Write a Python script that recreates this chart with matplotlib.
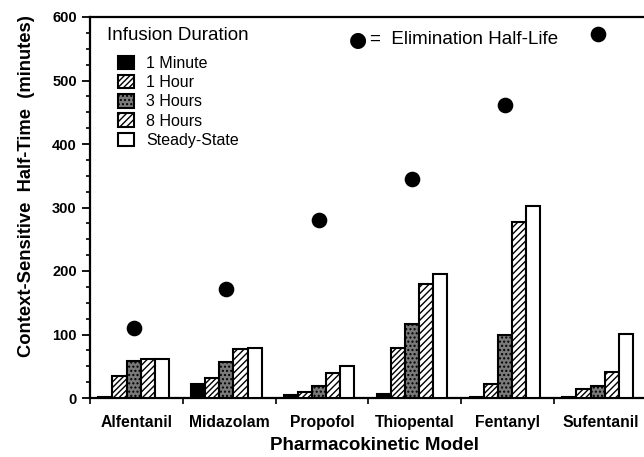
import matplotlib
matplotlib.use("Agg")
import matplotlib.pyplot as plt
import numpy as np
from matplotlib.patches import Patch
from matplotlib.ticker import MultipleLocator

plt.rcParams['font.family'] = ['Liberation Sans', 'DejaVu Sans']
plt.rcParams['hatch.linewidth'] = 1.0

categories = ["Alfentanil", "Midazolam", "Propofol", "Thiopental", "Fentanyl", "Sufentanil"]
series_names = ["1 Minute", "1 Hour", "3 Hours", "8 Hours", "Steady-State"]
min1 = [1, 22, 4, 7, 1, 1]
hr1 = [35, 32, 10, 78, 22, 14]
hr3 = [58, 57, 19, 116, 100, 19]
hr8 = [62, 77, 39, 179, 277, 41]
steady = [62, 79, 50, 195, 302, 101]
elimination = [111, 171, 280, 345, 462, 573]

series = [min1, hr1, hr3, hr8, steady]
faces = ["black", "white", "#7a7a7a", "white", "white"]
hatches = [None, "//////", "....", "/////", None]

fig = plt.figure(figsize=(6.44, 4.57), dpi=100)
ax = fig.add_axes([90/644, 1-398/457, 1-90/644, (398-17)/457])

x = np.arange(len(categories))
w = 0.152
handles = []
for k, (vals, fc, h, name) in enumerate(zip(series, faces, hatches, series_names)):
    off = (k - 2) * w - 0.03
    ax.bar(x + off, vals, width=w, facecolor=fc, edgecolor="black",
           hatch=h, linewidth=1.5, zorder=3)
    handles.append(Patch(facecolor=fc, edgecolor="black", hatch=h, linewidth=1.5, label=name))

ax.scatter(x - 0.03, elimination, s=105, color="black", zorder=4)

ax.set_xlim(-0.5, 5.47)
ax.set_ylim(0, 600)
ax.set_xticks(x - 0.5, minor=False)
ax.set_xticks(x, minor=True)
ax.set_xticklabels([""] * len(x))
ax.set_xticklabels(categories, minor=True, fontsize=11.3, fontweight="bold")
ax.tick_params(axis="x", which="minor", length=0, pad=12)
ax.tick_params(axis="x", which="major", length=4, width=1.2, direction="out")
ax.yaxis.set_major_locator(MultipleLocator(100))
ax.yaxis.set_minor_locator(MultipleLocator(25))
ax.tick_params(axis="y", which="major", length=6, width=1.3, labelsize=10.5)
ax.tick_params(axis="y", which="minor", length=3, width=1.2)
for lbl in ax.get_yticklabels():
    lbl.set_fontweight("bold")

ax.spines["right"].set_visible(False)
for s in ["left", "bottom", "top"]:
    ax.spines[s].set_linewidth(1.6)

fig.text(375/644, 1-446/457, "Pharmacokinetic Model", fontsize=13.5,
         fontweight="bold", ha="center", va="center")
fig.text(27/644, 1-186/457, "Context-Sensitive  Half-Time  (minutes)", fontsize=13.2,
         fontweight="bold", ha="center", va="center", rotation=90)

fig.text(107/644, 1-35/457, "Infusion Duration", fontsize=13.5,
         ha="left", va="center")
leg = fig.legend(handles=handles, loc="upper left",
                 bbox_to_anchor=(118/644, 1-56/457), frameon=False, fontsize=11.5,
                 handlelength=1.0, handleheight=0.9,
                 handletextpad=0.75, labelspacing=0.25, borderaxespad=0.0,
                 borderpad=0.0)

fig.text(358/644, 1-40/457, "●", fontsize=15, ha="center", va="center",
         family=["DejaVu Sans"])
fig.text(370/644, 1-40/457, "=  Elimination Half-Life", fontsize=13.5,
         ha="left", va="center")

fig.savefig("out.png", dpi=100)
